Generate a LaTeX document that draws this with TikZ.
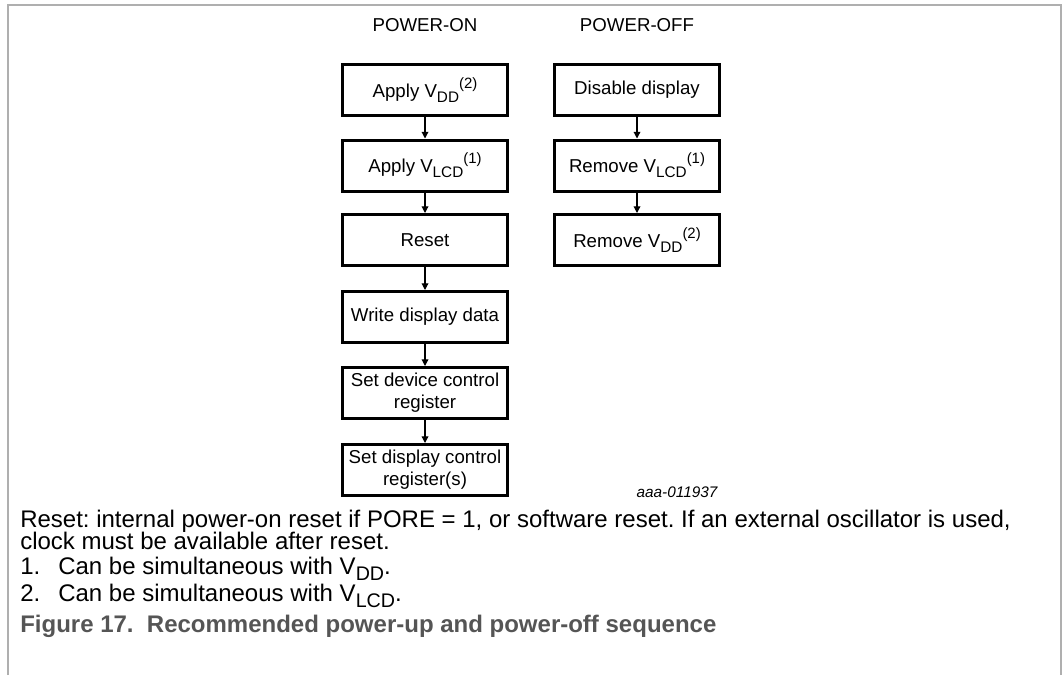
\documentclass[tikz,border=0pt]{standalone}
\usepackage{fontspec}
\setmainfont{Liberation Sans}
\usetikzlibrary{arrows.meta}
\definecolor{framegray}{RGB}{175,175,175}
\definecolor{capgray}{RGB}{85,85,85}
\newcommand\lowsub[1]{\raisebox{-0.28em}{\scalebox{0.82}{#1}}}
\newcommand\highsup[1]{\raisebox{0.48em}{\scalebox{0.8}{#1}}}
\frenchspacing
\begin{document}
\begin{tikzpicture}[x=0.75pt,y=-0.75pt,
  stepbox/.style={draw, line width=2.25pt, minimum width=123.75pt, minimum height=38.25pt, inner sep=0pt, align=center, font=\fontsize{14}{16.5}\selectfont},
  conn/.style={line width=0.9pt, -{Triangle[length=5pt,width=5pt]}},
  hdr/.style={font=\fontsize{14}{16}\selectfont, inner sep=0pt},
  body/.style={font=\fontsize{18}{21}\selectfont, anchor=base west, inner sep=0pt},
  figcap/.style={font=\fontsize{18}{21}\selectfont\bfseries, text=capgray, anchor=base west, inner sep=0pt}]
\useasboundingbox (0,0) rectangle (1062,675);
\draw[framegray, line width=1.4pt] (8,675) -- (8,5) -- (1061,5) -- (1061,675);

\node[hdr] (hon) at (425,25) {POWER-ON};
\node[hdr] (hoff) at (637,25) {POWER-OFF};

\node[stepbox] (a1) at (425,90) {Apply V\lowsub{DD}\highsup{(2)}};
\node[stepbox] (a2) at (425,165.5) {Apply V\lowsub{LCD}\highsup{(1)}};
\node[stepbox] (a3) at (425,240) {Reset};
\node[stepbox] (a4) at (425,317) {Write display data};
\node[stepbox] (a5) at (425,393) {Set device control\\register};
\node[stepbox] (a6) at (425,470) {Set display control\\register(s)};

\node[stepbox] (b1) at (637,90) {Disable display};
\node[stepbox] (b2) at (637,165.5) {Remove V\lowsub{LCD}\highsup{(1)}};
\node[stepbox] (b3) at (637,240) {Remove V\lowsub{DD}\highsup{(2)}};

\foreach \u/\v in {a1/a2,a2/a3,a3/a4,a4/a5,a5/a6,b1/b2,b2/b3}
  \draw[conn] (\u.south) -- (\v.north);

\node[font=\fontsize{11.5}{13}\selectfont\itshape, inner sep=0pt] (id) at (677,492) {aaa-011937};

\node[body] (n0) at (20,527) {Reset: internal power-on reset if PORE = 1, or software reset. If an external oscillator is used,};
\node[body] (n0b) at (20,549) {clock must be available after reset.};
\node[body] (n1) at (20,574) {1.};
\node[body] (n1t) at (58,574) {Can be simultaneous with V\lowsub{DD}.};
\node[body] (n2) at (20,601) {2.};
\node[body] (n2t) at (58,601) {Can be simultaneous with V\lowsub{LCD}.};
\node[figcap] (cap) at (20,632) {Figure 17.\ \ Recommended power-up and power-off sequence};
\end{tikzpicture}
\end{document}
